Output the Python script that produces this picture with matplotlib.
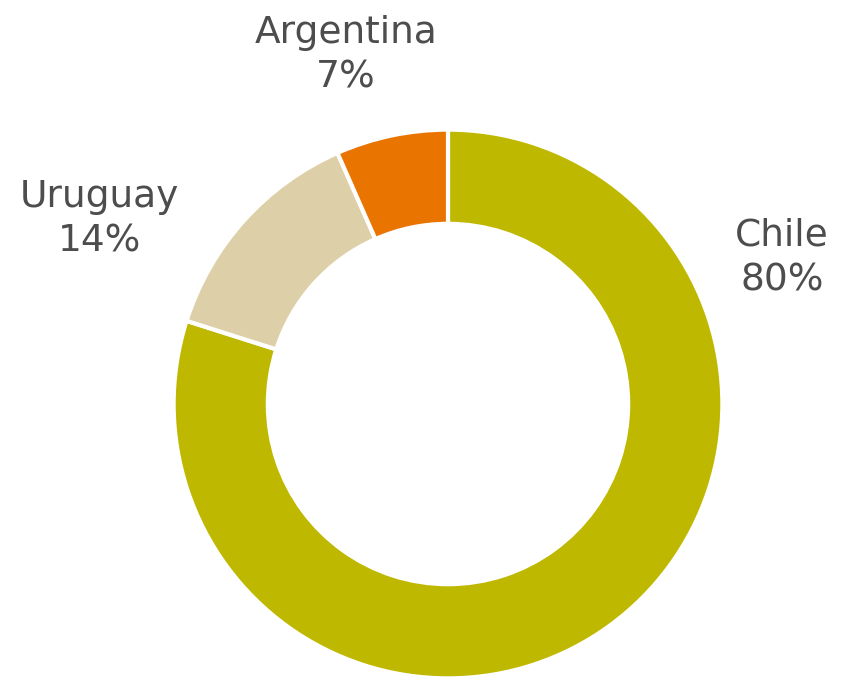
import numpy as np
import matplotlib.pyplot as plt

countries = ['Chile', 'Uruguay', 'Argentina']
shares = [79.9, 13.5, 6.6]
labels = ['80%', '14%', '7%']
colors = ['#BFB800', '#DDD0A8', '#E97500']

# label spots, in pie-radius units
label_xy = [(1.223, 0.535), (-1.275, 0.678), (-0.374, 1.278)]

fig = plt.figure(figsize=(8.41, 6.79), dpi=100)
ax = fig.add_axes([0, 0, 1, 1])

ax.pie(shares, colors=colors, startangle=90, counterclock=False,
       radius=1.005, wedgeprops=dict(width=0.345, edgecolor='white', linewidth=3))

for name, lab, (x, y) in zip(countries, labels, label_xy):
    ax.text(x, y, name + '\n' + lab, ha='center', va='center', fontsize=27,
            color='#4D4D4D', family='DejaVu Sans', linespacing=1.3)

ax.set_xlim(-448 / 273, (841 - 448) / 273)
ax.set_ylim(-275 / 273, 404 / 273)
ax.set_aspect('auto')
ax.axis('off')

plt.savefig('out.png', dpi=100)
